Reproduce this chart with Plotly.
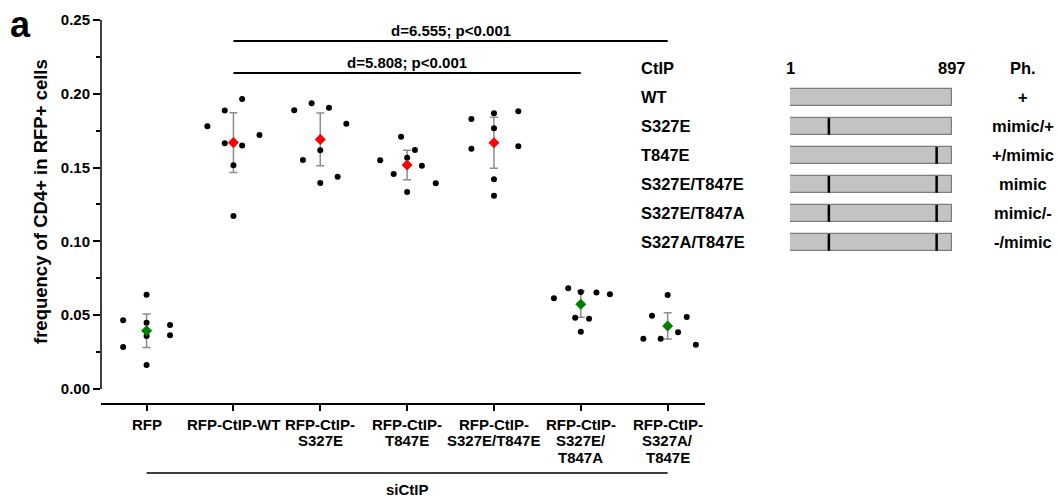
import numpy as np
import plotly.graph_objects as go

# ---------------- data ----------------
group_lines = [
    ["RFP"],
    ["RFP-CtIP-WT"],
    ["RFP-CtIP-", "S327E"],
    ["RFP-CtIP-", "T847E"],
    ["RFP-CtIP-", "S327E/T847E"],
    ["RFP-CtIP-", "S327E/", "T847A"],
    ["RFP-CtIP-", "S327A/", "T847E"],
]

rfp = [0.0465, 0.0285, 0.0639, 0.0449, 0.0359, 0.0163, 0.0434, 0.0364]
wt = [0.1780, 0.1886, 0.1965, 0.1665, 0.1649, 0.1721, 0.1516, 0.1172]
s327e = [0.1888, 0.1936, 0.1906, 0.1551, 0.1617, 0.1396, 0.1797, 0.1438]
t847e = [0.1709, 0.1549, 0.1619, 0.1567, 0.1457, 0.1513, 0.1394, 0.1335]
s327e_t847e = [0.1829, 0.1868, 0.1881, 0.1766, 0.1628, 0.1644, 0.1421, 0.1310]
s327e_t847a = [0.0614, 0.0682, 0.0657, 0.0653, 0.0642, 0.0483, 0.0476, 0.0388]
s327a_t847e = [0.0637, 0.0497, 0.0488, 0.0384, 0.0341, 0.0341, 0.0300]

# horizontal scatter of the replicate dots around each category (category units)
jit_rfp = [-0.27, -0.27, 0, 0, 0, 0, 0.27, 0.27]
jit_wt = [-0.30, -0.10, 0.10, -0.10, 0.10, 0.30, 0, 0]
jit_s327e = [-0.30, -0.10, 0.10, -0.20, 0, 0, 0.30, 0.20]
jit_t847e = [-0.07, -0.31, 0.09, 0, -0.155, 0.17, 0.33, 0]
jit_s327e_t847e = [-0.26, 0, 0.28, 0, -0.26, 0.28, 0, 0]
jit_s327e_t847a = [-0.31, -0.145, 0, 0.18, 0.335, -0.065, 0.095, 0]
jit_s327a_t847e = [0, -0.18, 0.22, 0.12, -0.28, -0.08, 0.325]

# 95% confidence half-widths of the group means
ci_half = [0.0113, 0.0202, 0.0178, 0.0100, 0.0172, 0.0089, 0.0089]
mean_colors = ["#008000", "#ff0000", "#ff0000", "#ff0000", "#ff0000", "#008000", "#008000"]

# pairwise comparisons: (from group, to group, bracket height, label)
comparisons = [
    (1, 6, 0.2358, "d=6.555; p<0.001"),
    (1, 5, 0.2141, "d=5.808; p<0.001"),
]

# CtIP construct schematic
construct_names = ["WT", "S327E", "T847E", "S327E/T847E", "S327E/T847A", "S327A/T847E"]
construct_ph = ["+", "mimic/+", "+/mimic", "mimic", "mimic/-", "-/mimic"]
protein_len = 897
# positions of the mutated residues along the drawn bar
site_marks = [[], [216], [812], [216, 812], [216, 812], [216, 812]]

values = [rfp, wt, s327e, t847e, s327e_t847e, s327e_t847a, s327a_t847e]
jitters = [jit_rfp, jit_wt, jit_s327e, jit_t847e, jit_s327e_t847e, jit_s327e_t847a, jit_s327a_t847e]

# ---------------- figure ----------------
FONT = "Liberation Sans, Arial, sans-serif"
W, H = 1058, 500
ML, MR, MT, MB = 101, 0, 20, 97
PW = W - ML - MR
PH = H - MT - MB


def px_x(p):
    return (p - ML) / PW


def px_y(p):
    return (H - MB - p) / PH


fig = go.Figure()

cats = np.arange(len(values))
means = [float(np.mean(v)) for v in values]

# error bars first, so dots and diamonds sit above them
fig.add_trace(go.Scatter(
    x=cats, y=means, mode="markers",
    marker=dict(size=1, color="rgba(0,0,0,0)"),
    error_y=dict(type="data", array=ci_half, color="#8c8c8c", thickness=1.5, width=4),
    showlegend=False, hoverinfo="skip",
))

for i, (vals, jit) in enumerate(zip(values, jitters)):
    fig.add_trace(go.Scatter(
        x=i + np.array(jit), y=vals, mode="markers",
        marker=dict(size=6, color="black"),
        showlegend=False, hoverinfo="skip",
    ))

fig.add_trace(go.Scatter(
    x=cats, y=means, mode="markers",
    marker=dict(symbol="diamond", size=8.5, color=mean_colors, line=dict(width=0)),
    showlegend=False, hoverinfo="skip",
))

# schematic bars
n_rows = len(construct_names)
fig.add_trace(go.Bar(
    orientation="h", y=list(range(n_rows)), x=[protein_len - 1] * n_rows, base=1,
    width=0.58, marker=dict(color="#c3c3c3", line=dict(color="#7d7d7d", width=1.2)),
    xaxis="x2", yaxis="y2", showlegend=False, hoverinfo="skip",
))

shapes = []
annotations = []

# y axis line only over the data range
shapes.append(dict(type="line", xref="x domain", yref="y", x0=0, x1=0, y0=0, y1=0.25,
                   line=dict(color="black", width=1.5)))

# comparison brackets
for a, b, yv, txt in comparisons:
    shapes.append(dict(type="line", xref="x", yref="y", x0=a, x1=b, y0=yv, y1=yv,
                       line=dict(color="black", width=2)))
    annotations.append(dict(x=(a + b) / 2, y=yv, xref="x", yref="y", text=txt,
                            showarrow=False, yanchor="bottom", yshift=0,
                            font=dict(family=FONT, size=15, color="black", weight="bold")))

# category labels (stacked lines)
for i, lines in enumerate(group_lines):
    for k, line in enumerate(lines):
        annotations.append(dict(x=i, y=px_y(424 + 16.5 * k), xref="x", yref="paper",
                                text=line, showarrow=False, yanchor="middle",
                                font=dict(family=FONT, size=15, color="black", weight="bold")))

# siCtIP grouping line
shapes.append(dict(type="line", xref="x", yref="paper", x0=0, x1=len(values) - 1,
                   y0=px_y(473), y1=px_y(473), line=dict(color="black", width=1.5)))
annotations.append(dict(x=(len(values) - 1) / 2, y=px_y(489), xref="x", yref="paper",
                        text="siCtIP", showarrow=False, yanchor="middle",
                        font=dict(family=FONT, size=15, color="black", weight="bold")))

# y axis title
annotations.append(dict(x=px_x(40), y=px_y(202), xref="paper", yref="paper",
                        text="frequency of CD4+ in RFP+ cells", textangle=-90,
                        showarrow=False, xanchor="center", yanchor="middle",
                        font=dict(family=FONT, size=18.5, color="black", weight="bold")))

# panel letter
annotations.append(dict(x=px_x(20), y=px_y(24), xref="paper", yref="paper", text="a",
                        showarrow=False, xanchor="center", yanchor="middle",
                        font=dict(family=FONT, size=36, color="black", weight="bold")))

# schematic marks and texts
for r, sites in enumerate(site_marks):
    for s in sites:
        shapes.append(dict(type="line", xref="x2", yref="y2", x0=s, x1=s,
                           y0=r - 0.29, y1=r + 0.29, line=dict(color="black", width=2.5)))

sfont = dict(family=FONT, size=16.5, color="black", weight="bold")
for r, (nm, ph) in enumerate(zip(construct_names, construct_ph)):
    annotations.append(dict(x=px_x(639), y=r, xref="paper", yref="y2", text=nm,
                            showarrow=False, xanchor="left", yanchor="middle", font=sfont))
    annotations.append(dict(x=px_x(1023), y=r, xref="paper", yref="y2", text=ph,
                            showarrow=False, xanchor="center", yanchor="middle", font=sfont))

annotations.append(dict(x=px_x(639), y=-1, xref="paper", yref="y2", text="CtIP",
                        showarrow=False, xanchor="left", yanchor="middle", font=sfont))
annotations.append(dict(x=1, y=-1, xref="x2", yref="y2", text="1",
                        showarrow=False, xanchor="center", yanchor="middle", font=sfont))
annotations.append(dict(x=protein_len, y=-1, xref="x2", yref="y2", text=str(protein_len),
                        showarrow=False, xanchor="center", yanchor="middle", font=sfont))
annotations.append(dict(x=px_x(1023), y=-1, xref="paper", yref="y2", text="Ph.",
                        showarrow=False, xanchor="center", yanchor="middle", font=sfont))

# row pitch of the schematic in pixels, first row centre at 97.3 px
row0, pitch = 97.3, 29.0
y2_top = (MT - row0) / pitch
y2_bot = (H - MB - row0) / pitch

fig.update_layout(
    width=W, height=H, autosize=False,
    margin=dict(l=ML, r=MR, t=MT, b=MB, pad=0),
    paper_bgcolor="white", plot_bgcolor="white",
    font=dict(family=FONT, color="black"),
    shapes=shapes, annotations=annotations,
    xaxis=dict(domain=[0, px_x(705)], range=[-0.525, 6.43], tickmode="array",
               tickvals=list(range(len(values))), showticklabels=False,
               ticks="outside", ticklen=6, tickwidth=1.5, tickcolor="black",
               showline=True, linecolor="black", linewidth=1.5,
               showgrid=False, zeroline=False, fixedrange=True),
    yaxis=dict(range=[-0.0095, 0.25], tickmode="array",
               tickvals=[0, 0.05, 0.10, 0.15, 0.20, 0.25],
               ticktext=["0.00", "0.05", "0.10", "0.15", "0.20", "0.25"],
               ticks="outside", ticklen=7, tickwidth=1.5, tickcolor="black",
               tickfont=dict(family=FONT, size=15, color="black", weight="bold"),
               minor=dict(tickvals=[0.025, 0.075, 0.125, 0.175, 0.225], ticks="outside",
                          ticklen=4, tickwidth=1.5, tickcolor="black", showgrid=False),
               showline=False, showgrid=False, zeroline=False, fixedrange=True),
    xaxis2=dict(domain=[px_x(790), px_x(952)], range=[1, protein_len], anchor="y2",
                visible=False, fixedrange=True),
    yaxis2=dict(domain=[0, 1], range=[y2_bot, y2_top], anchor="x2",
                visible=False, fixedrange=True),
    bargap=0,
)

fig.write_html("out.html", config=dict(displayModeBar=False))
